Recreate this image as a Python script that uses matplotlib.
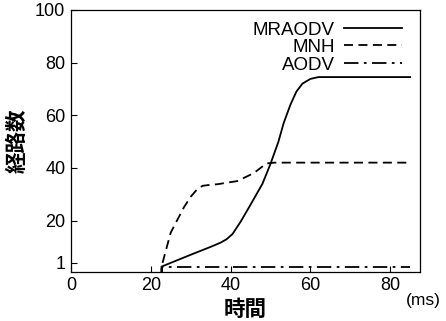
import matplotlib
matplotlib.use("Agg")
import matplotlib.pyplot as plt

plt.rcParams['font.family'] = ['Liberation Sans', 'Noto Sans CJK JP', 'DejaVu Sans']

# route counts over time
mraodv_t = [0, 22.7, 22.7, 30, 35, 37.5, 39, 40.5, 42.5, 45, 48, 50, 52, 53.3, 55, 56.5, 58, 60, 62, 85]
mraodv_n = [0, 0, 2.5, 7, 10, 11.6, 12.9, 14.9, 19.5, 26, 34, 41.5, 50, 57, 64, 69, 72, 73.8, 74.5, 74.5]

mnh_t = [0, 22.7, 22.7, 25, 28.3, 30, 31.7, 33, 34.5, 36.7, 41.7, 45.8, 49, 51, 85]
mnh_n = [0, 0, 2.5, 15.4, 25, 29, 32, 33.2, 33.5, 33.8, 35, 38, 41.7, 42, 42]

aodv_t = [0, 22.7, 22.7, 85]
aodv_n = [0, 0, 2.5, 2.5]

xticks = [0, 20, 40, 60, 80]
yticks = [4, 20, 40, 60, 80, 100]
ytick_labels = ["1", "20", "40", "60", "80", "100"]

fig = plt.figure(figsize=(4.46, 3.21), dpi=100)
ax = fig.add_axes([0.159, 0.153, 0.783, 0.816])

ax.plot(mraodv_t, mraodv_n, color="black", lw=1.3, ls="-", label="MRAODV")
ax.plot(mnh_t, mnh_n, color="black", lw=1.3, ls=(0, (5, 3)), label="MNH")
ax.plot(aodv_t, aodv_n, color="black", lw=1.3, ls=(0, (8, 3, 1.5, 3)), label="AODV")

ax.set_xlim(0, 87.5)
ax.set_ylim(0.5, 100)
ax.set_xticks(xticks)
ax.set_yticks(yticks)
ax.set_yticklabels(ytick_labels)
ax.tick_params(direction="in", length=4, labelsize=13, width=0.8, pad=4)

ax.set_ylabel("経路数", fontsize=15.5, fontweight="bold", family=['Noto Sans CJK JP'], labelpad=5)
ax.set_xlabel("時間", fontsize=15.5, fontweight="bold", family=['Noto Sans CJK JP'], labelpad=3)
fig.text(0.988, 0.065, "(ms)", ha="right", va="center", fontsize=12.5)

for s in ax.spines.values():
    s.set_linewidth(0.9)

ax.legend(loc="upper right", frameon=False, markerfirst=False, fontsize=13.5,
          handlelength=3.1, handletextpad=0.5, labelspacing=0.02,
          bbox_to_anchor=(0.97, 0.985), borderaxespad=0)

fig.savefig("out.png", dpi=100)
